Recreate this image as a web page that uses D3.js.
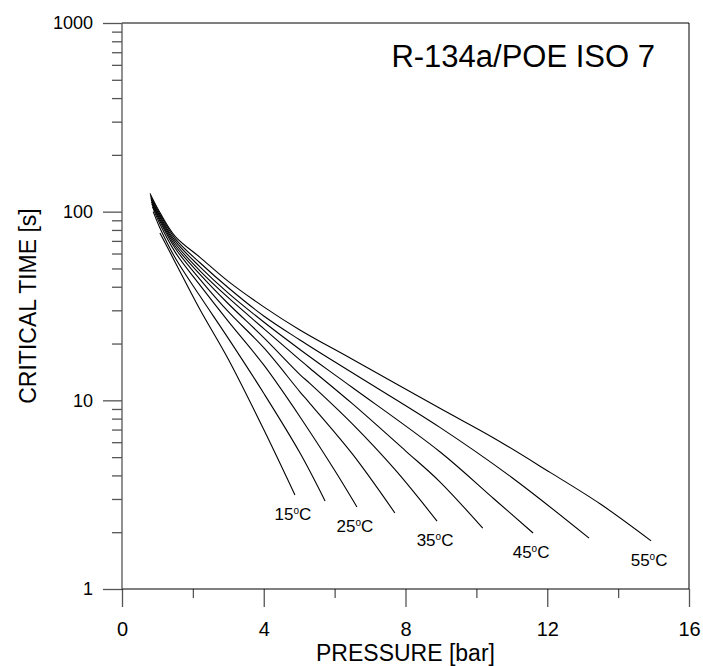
<!DOCTYPE html>
<html>
<head>
<meta charset="utf-8">
<script src="https://cdn.jsdelivr.net/npm/d3@7"></script>
<style>
  body { margin: 0; background: #fff; }
  text { font-family: "Liberation Sans", Arial, sans-serif; fill: #000; }
</style>
</head>
<body>
<svg id="chart" width="703" height="666"></svg>
<script>
// curve data: pressure [bar] and critical time [s]
const temps = [15, 20, 25, 30, 35, 40, 45, 50, 55];
const labelled = [15, 25, 35, 45, 55];

const p15 = [1.07, 1.5, 2.2, 3.0, 4.0, 4.88];
const t15 = [77, 54, 30.3, 16.5, 7.0, 3.15];
const p20 = [0.88, 1.07, 1.5, 2.2, 3.0, 4.0, 5.02, 5.73];
const t20 = [100, 82, 57, 35.7, 21.3, 10.9, 5.27, 2.93];
const p25 = [0.86, 1.07, 1.5, 2.2, 3.0, 4.0, 5.02, 6.0, 6.63];
const t25 = [106, 86, 61, 40.8, 26.2, 15.4, 8.19, 4.26, 2.72];
const p30 = [0.84, 1.07, 1.5, 2.2, 3.0, 4.0, 5.02, 5.3, 6.5, 7.7];
const t30 = [110, 89, 64, 43.8, 29.5, 19.0, 11.1, 9.64, 5.2, 2.53];
const p35 = [0.83, 1.07, 1.5, 2.2, 3.0, 4.0, 5.02, 5.3, 6.5, 7.7, 8.89];
const t35 = [113, 91, 66, 46.5, 32.5, 21.5, 13.7, 12.3, 7.5, 4.3, 2.29];
const p40 = [0.82, 1.07, 1.5, 2.2, 3.0, 4.0, 5.02, 5.3, 6.5, 8.0, 8.97, 10.18];
const t40 = [116, 93, 68, 48.6, 35, 24, 16.4, 14.8, 9.6, 5.4, 3.7, 2.1];
const p45 = [0.81, 1.07, 1.5, 2.2, 3.0, 4.0, 5.02, 6.5, 8.97, 10.5, 11.6];
const t45 = [119, 95, 70, 51.0, 37, 26, 18.6, 11.7, 5.34, 3.0, 1.98];
const p50 = [0.8, 1.07, 1.5, 2.2, 3.0, 4.0, 5.02, 6.5, 8.97, 11.0, 13.18];
const t50 = [122, 97, 72, 53.6, 39.5, 28, 20.9, 14.0, 7.19, 3.9, 1.86];
const p55 = [0.79, 1.07, 1.5, 2.2, 3.0, 4.0, 5.02, 6.5, 8.97, 10.5, 12.08, 13.5, 14.93];
const t55 = [125, 99, 74, 57.3, 42.7, 31.3, 23.6, 16.5, 9.07, 6.3, 4.15, 2.82, 1.8];

const xMajor = [0, 4, 8, 12, 16];
const xMinor = [2, 6, 10, 14];
const yMajor = [1, 10, 100, 1000];

const title = "R-134a/POE ISO 7";
const xTitle = "PRESSURE [bar]";
const yTitle = "CRITICAL TIME [s]";

const pressures = [p15, p20, p25, p30, p35, p40, p45, p50, p55];
const times = [t15, t20, t25, t30, t35, t40, t45, t50, t55];
const series = temps.map((temp, k) => ({
  temp: temp,
  points: pressures[k].map((p, i) => [p, times[k][i]])
}));

const width = 703, height = 666;
const margin = { top: 23, right: 14, bottom: 77, left: 122 };
const w = width - margin.left - margin.right;
const h = height - margin.top - margin.bottom;

const svg = d3.select("#chart");
const g = svg.append("g").attr("transform", `translate(${margin.left},${margin.top})`);

const x = d3.scaleLinear().domain([0, 16]).range([0, w]);
const y = d3.scaleLog().domain([1, 1000]).range([h, 0]);

// minor ticks for the log axis: 2..9 of each decade
const yMinor = [];
yMajor.slice(0, -1).forEach(d => { for (let m = 2; m <= 9; m++) yMinor.push(d * m); });

const tickColor = "#555";

function styleAxis(size) {
  return sel => {
    sel.select(".domain").remove();
    sel.selectAll(".tick line").attr("stroke", tickColor).attr("stroke-width", 1.3);
    sel.selectAll(".tick text")
      .style("font-family", "'Liberation Sans', Arial, sans-serif")
      .style("font-size", size + "px")
      .attr("fill", "#000");
  };
}

g.append("g")
  .call(d3.axisLeft(y).tickValues(yMinor).tickSize(10).tickFormat(""))
  .call(styleAxis(18));
g.append("g")
  .call(d3.axisLeft(y).tickValues(yMajor).tickSize(19).tickPadding(10).tickFormat(d3.format("d")))
  .call(styleAxis(18));

g.append("g")
  .attr("transform", `translate(0,${h})`)
  .call(d3.axisBottom(x).tickValues(xMinor).tickSize(9).tickFormat(""))
  .call(styleAxis(20));
g.append("g")
  .attr("transform", `translate(0,${h})`)
  .call(d3.axisBottom(x).tickValues(xMajor).tickSize(18).tickPadding(15).tickFormat(d3.format("d")))
  .call(styleAxis(20));

// frame
g.append("line").attr("x1", 0).attr("x2", w).attr("y1", 0).attr("y2", 0).attr("stroke", "#000");
g.append("line").attr("x1", w).attr("x2", w).attr("y1", 0).attr("y2", h).attr("stroke", "#000");
g.append("line").attr("x1", 0).attr("x2", w).attr("y1", h).attr("y2", h).attr("stroke", "#000");
g.append("line").attr("x1", 0).attr("x2", 0).attr("y1", 0).attr("y2", h).attr("stroke", tickColor).attr("stroke-width", 1.3);

const line = d3.line()
  .x(d => x(d[0]))
  .y(d => y(d[1]))
  .curve(d3.curveCatmullRom.alpha(0.5));

g.selectAll("path.curve")
  .data(series)
  .join("path")
  .attr("class", "curve")
  .attr("d", d => line(d.points))
  .attr("fill", "none")
  .attr("stroke", "#000")
  .attr("stroke-width", 1.1);

// temperature labels under the curve ends
const lab = g.selectAll("text.temp")
  .data(series.filter(s => labelled.includes(s.temp)))
  .join("text")
  .attr("class", "temp")
  .attr("text-anchor", "middle")
  .attr("x", d => x(d.points[d.points.length - 1][0]) - 2)
  .attr("y", d => y(d.points[d.points.length - 1][1]) + 25)
  .style("font-size", "17px");
lab.append("tspan").text(d => d.temp);
lab.append("tspan").attr("dy", -6).style("font-size", "10px").text("o");
lab.append("tspan").attr("dy", 6).text("C");

g.append("text")
  .attr("x", w / 2)
  .attr("y", h + 72)
  .attr("text-anchor", "middle")
  .style("font-size", "23px")
  .text(xTitle);

g.append("text")
  .attr("x", w - 34)
  .attr("y", 44)
  .attr("text-anchor", "end")
  .style("font-size", "31px")
  .text(title);

g.append("text")
  .attr("transform", `translate(${-86},${h / 2}) rotate(-90)`)
  .attr("text-anchor", "middle")
  .style("font-size", "23px")
  .text(yTitle);
</script>
</body>
</html>
